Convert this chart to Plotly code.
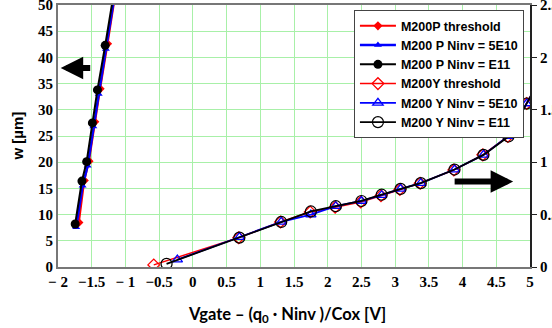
import plotly.graph_objects as go

# P devices (left axis, w in um)
p_thr_x = [-1.69, -1.61, -1.54, -1.455, -1.375, -1.265, -1.12]
p_thr_y = [8.5, 16.5, 20.2, 27.7, 34.0, 42.6, 54.5]
p_5e10_x = [-1.73, -1.635, -1.56, -1.476, -1.396, -1.29, -1.14]
p_5e10_y = [7.6, 15.5, 19.3, 26.8, 33.0, 41.6, 53.5]
p_e11_x = [-1.745, -1.645, -1.575, -1.49, -1.415, -1.30, -1.15]
p_e11_y = [8.2, 16.4, 20.1, 27.5, 33.8, 42.3, 54.0]

# Y devices (right axis)
y_thr_x = [-0.58, 0.68, 1.30, 1.74, 2.11, 2.49, 2.79, 3.07, 3.37, 3.87, 4.30, 4.67, 4.95, 5.2]
y_thr_y = [0.02, 0.28, 0.43, 0.525, 0.57, 0.62, 0.68, 0.74, 0.80, 0.925, 1.07, 1.245, 1.56, 1.85]
y_5e10_x = [-0.23, 0.69, 1.31, 1.75, 2.12, 2.50, 2.80, 3.08, 3.38, 3.88, 4.31, 4.68, 4.95, 5.2]
y_5e10_y = [0.07, 0.285, 0.43, 0.50, 0.58, 0.63, 0.685, 0.745, 0.80, 0.93, 1.07, 1.25, 1.56, 1.85]
y_e11_x = [-0.39, 0.69, 1.31, 1.75, 2.12, 2.50, 2.80, 3.08, 3.38, 3.88, 4.31, 4.68, 4.95, 5.2]
y_e11_y = [0.03, 0.28, 0.43, 0.53, 0.58, 0.63, 0.69, 0.745, 0.80, 0.93, 1.07, 1.245, 1.56, 1.85]

x_ticks = [-2, -1.5, -1, -0.5, 0, 0.5, 1, 1.5, 2, 2.5, 3, 3.5, 4, 4.5, 5]
x_ticktext = ["\u2212 2", "\u22121.5", "\u2212 1", "\u22120.5", "0", "0.5", "1", "1.5",
              "2", "2.5", "3", "3.5", "4", "4.5", "5"]
y_ticks = [0, 5, 10, 15, 20, 25, 30, 35, 40, 45, 50]
y2_ticks = [0, 0.5, 1, 1.5, 2, 2.5]

fig = go.Figure()

fig.add_trace(go.Scatter(x=p_thr_x, y=p_thr_y, name="M200P threshold", mode="lines+markers",
                         line=dict(color="red", width=2),
                         marker=dict(symbol="diamond", size=7, color="red")))
fig.add_trace(go.Scatter(x=p_5e10_x, y=p_5e10_y, name="M200 P Ninv = 5E10", mode="lines+markers",
                         line=dict(color="blue", width=2.5),
                         marker=dict(symbol="triangle-up", size=7, color="blue")))
fig.add_trace(go.Scatter(x=p_e11_x, y=p_e11_y, name="M200 P Ninv = E11", mode="lines+markers",
                         line=dict(color="black", width=2),
                         marker=dict(symbol="circle", size=9, color="black")))
fig.add_trace(go.Scatter(x=y_thr_x, y=y_thr_y, name="M200Y threshold", mode="lines+markers",
                         yaxis="y2", line=dict(color="red", width=1.5),
                         marker=dict(symbol="diamond-open", size=9, color="red", line=dict(width=1.3))))
fig.add_trace(go.Scatter(x=y_5e10_x, y=y_5e10_y, name="M200 Y Ninv = 5E10", mode="lines+markers",
                         yaxis="y2", line=dict(color="blue", width=1.8),
                         marker=dict(symbol="triangle-up-open", size=9, color="blue", line=dict(width=1.3))))
fig.add_trace(go.Scatter(x=y_e11_x, y=y_e11_y, name="M200 Y Ninv = E11", mode="lines+markers",
                         yaxis="y2", line=dict(color="black", width=1.8),
                         marker=dict(symbol="circle-open", size=11, color="black", line=dict(width=1.2))))

fig.update_layout(
    width=552, height=328,
    margin=dict(l=58, r=22, t=5, b=61),
    paper_bgcolor="white", plot_bgcolor="white",
    showlegend=True,
    legend=dict(x=0.627, y=0.98, xanchor="left", yanchor="top",
                bgcolor="white", bordercolor="#444", borderwidth=1,
                font=dict(family="Liberation Sans", size=12.5, color="black", weight="bold"),
                tracegroupgap=0, itemwidth=36),
    xaxis=dict(range=[-2, 5], tickvals=x_ticks, ticktext=x_ticktext,
               showgrid=True, gridcolor="#a8f0a8", gridwidth=1, zeroline=False,
               showline=True, linecolor="#777", linewidth=2, mirror=True, ticks=""),
    yaxis=dict(range=[0, 50], tickvals=y_ticks, ticklabeloverflow="allow",
               showgrid=True, gridcolor="#a8f0a8", gridwidth=1, zeroline=False,
               showline=True, linecolor="#777", linewidth=2, ticks=""),
    yaxis2=dict(range=[0, 2.5], tickvals=y2_ticks, overlaying="y", side="right",
                ticklabeloverflow="allow",
                showgrid=False, zeroline=False,
                showline=True, linecolor="#222", linewidth=2,
                ticks="outside", ticklen=5, tickcolor="#222"),
)
# Bold serif tick labels on every axis
fig.update_xaxes(automargin=False,
                 tickfont=dict(family="Liberation Serif", size=15, color="black", weight="bold"))
fig.update_yaxes(automargin=False,
                 tickfont=dict(family="Liberation Serif", size=15, color="black", weight="bold"))

# Axis titles
fig.add_annotation(text="w [\u00b5m]", xref="paper", yref="paper", x=-0.11, y=0.5,
                   textangle=-90, showarrow=False,
                   font=dict(family="Liberation Sans", size=15, color="black", weight="bold"))
fig.add_annotation(text="Vgate \u2013 (q<sub>0</sub> \u00b7 Ninv )/Cox [V]", xref="paper", yref="paper",
                   x=0.485, y=-0.135, yanchor="top", showarrow=False,
                   font=dict(family="Lato", size=16.5, color="black", weight="bold"))

# Arrows pointing to the axis each family belongs to
fig.add_annotation(x=-1.96, y=38.0, ax=-1.50, ay=38.0, xref="x", yref="y", axref="x", ayref="y",
                   showarrow=True, arrowhead=2, arrowsize=0.75, arrowwidth=6, arrowcolor="black", text="")
fig.add_annotation(x=4.75, y=16.3, ax=3.86, ay=16.3, xref="x", yref="y", axref="x", ayref="y",
                   showarrow=True, arrowhead=2, arrowsize=0.75, arrowwidth=6, arrowcolor="black", text="")

fig.write_html("out.html")
